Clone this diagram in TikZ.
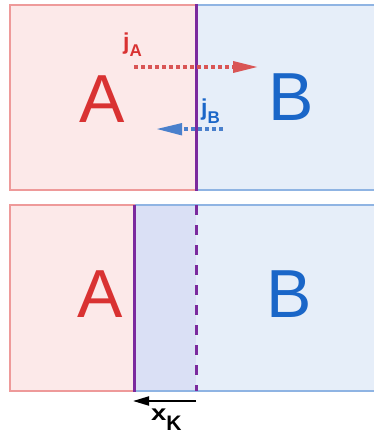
\documentclass[tikz,border=0pt]{standalone}
\usepackage{fontspec}
\setmainfont{Liberation Sans}
\usetikzlibrary{arrows.meta}
\definecolor{redfill}{HTML}{FCE9E9}
\definecolor{redline}{HTML}{EE9A9A}
\definecolor{bluefill}{HTML}{E6EEF9}
\definecolor{blueline}{HTML}{8FB4E3}
\definecolor{lavfill}{HTML}{DAE0F5}
\definecolor{redtext}{HTML}{D93232}
\definecolor{bluetext}{HTML}{1A66C8}
\definecolor{purp}{HTML}{7B2A9E}
\definecolor{redarrow}{HTML}{D95555}
\definecolor{bluearrow}{HTML}{4A80CC}
\begin{document}
\begin{tikzpicture}[x=1pt,y=-1pt,
  redbox/.style={fill=redfill,draw=redline,line width=1.5pt},
  bluebox/.style={fill=bluefill,draw=blueline,line width=1.5pt},
  biglet/.style={font=\fontsize{68}{68}\selectfont,inner sep=0pt,anchor=base},
  purpline/.style={draw=purp,line width=3pt},
  dotarrow/.style={line width=4pt,dash pattern=on 4pt off 3pt},
  lbl/.style={inner sep=0pt,anchor=base west,font=\bfseries}
]
\useasboundingbox (0,0) rectangle (373,433);
% top panel
\fill[bluefill] (196,5) rectangle (375,190);
\draw[blueline,line width=1.5pt] (196,5) -- (375,5) (196,190) -- (375,190);
\draw[redbox] (10,5) rectangle (196,190);
\draw[purpline] (196,4.5) -- (196,190.5);
\node[biglet,text=redtext] (A1) at (102,122) {A};
\node[biglet,text=bluetext] (B1) at (291,121) {B};
% jA arrow
\coordinate (ja0) at (134,67);
\coordinate (ja1) at (233,67);
\coordinate (ja2) at (257,67);
\draw[redarrow,dotarrow] (ja0) -- (ja1);
\fill[redarrow] (ja2) -- (233,61) -- (233,73) -- cycle;
\node[lbl,text=redtext] (jA) at (123,50) {\fontsize{23}{23}\selectfont j\raisebox{-7pt}{\fontsize{17}{17}\selectfont A}};
% jB arrow
\coordinate (jb0) at (223,129);
\coordinate (jb1) at (182,129);
\coordinate (jb2) at (157,129);
\draw[bluearrow,dotarrow] (jb0) -- (jb1);
\fill[bluearrow] (jb2) -- (182,123) -- (182,135.5) -- cycle;
\node[lbl,text=bluetext] (jB) at (201,115) {\fontsize{23}{23}\selectfont j\raisebox{-9pt}{\fontsize{17}{17}\selectfont B}};
% bottom panel
\fill[bluefill] (196,205) rectangle (375,391);
\fill[lavfill] (134,205) rectangle (196,391);
\draw[blueline,line width=1.5pt] (134,205) -- (375,205) (134,391) -- (375,391);
\draw[redbox] (10,205) rectangle (134,391);
\draw[purpline] (134,204.5) -- (134,391.5);
\draw[draw=purp,line width=3pt,dash pattern=on 10pt off 10pt] (196,205) -- (196,391);
\node[biglet,text=redtext] (A2) at (100,317) {A};
\node[biglet,text=bluetext] (B2) at (289,317) {B};
% xK
\coordinate (xk0) at (196,401);
\coordinate (xk1) at (133,401);
\draw[line width=2pt,-{Triangle[length=16pt,width=9pt]}] (xk0) -- (xk1);
\node[lbl] (xK) at (151,420) {\fontsize{22}{22}\selectfont\scalebox{1.25}[1]{x}\raisebox{-10pt}{\fontsize{21}{21}\selectfont K}};
\end{tikzpicture}
\end{document}
